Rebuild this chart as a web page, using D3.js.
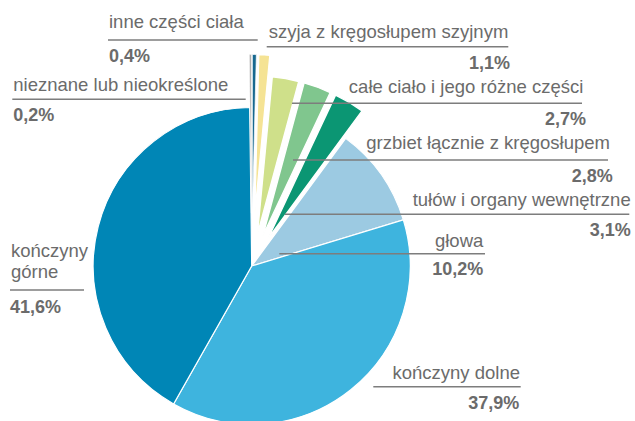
<!DOCTYPE html>
<html lang="pl">
<head>
<meta charset="utf-8">
<script src="https://cdn.jsdelivr.net/npm/d3@7"></script>
<style>
  html, body { margin: 0; padding: 0; background: #fff; }
  svg { display: block; }
  text { font-family: "Liberation Sans", Arial, Helvetica, sans-serif; fill: #6b6b6b; }
</style>
</head>
<body>
<svg id="chart" width="635" height="421"></svg>
<script>
// Wypadki przy pracy według umiejscowienia urazu (%)
const categories = [
  "inne części ciała",
  "szyja z kręgosłupem szyjnym",
  "całe ciało i jego różne części",
  "grzbiet łącznie z kręgosłupem",
  "tułów i organy wewnętrzne",
  "głowa",
  "kończyny dolne",
  "kończyny górne",
  "nieznane lub nieokreślone"
];
const values = [0.4, 1.1, 2.7, 2.8, 3.1, 10.2, 37.9, 41.6, 0.2];

// Slice fills, white border widths and how far each slice is pulled out of the pie
const colors = ["#17688f", "#f5e394", "#cfe08a", "#80c68e", "#0b9673", "#9ccae2", "#3eb4de", "#0086b6", "#ababab"];
const borders = [0.7, 1.2, 1.4, 1.4, 1.4, 1.2, 1.2, 1.2, 0.5];
const explode = [53, 53, 32, 32, 32, 0, 0, 0, 53];

// Label placement: name lines, underline and value, per category
const labelLayout = [
  { anchor: "start", tx: 109,   ty: [28.3],          ly: 40,    lx1: 108,   lx2: 257.7, px: 109,   py: 62.3 },
  { anchor: "end",   tx: 508.3, ty: [38.3],          ly: 46.7,  lx1: 266.7, lx2: 508.3, px: 510,   py: 69 },
  { anchor: "end",   tx: 583.3, ty: [93.3],          ly: 103.3, lx1: 292,   lx2: 582,   px: 586,   py: 125 },
  { anchor: "end",   tx: 610,   ty: [149.3],         ly: 160,   lx1: 293,   lx2: 608,   px: 612.7, py: 181.7 },
  { anchor: "end",   tx: 630.7, ty: [206],           ly: 214.3, lx1: 285,   lx2: 629.3, px: 630.7, py: 236 },
  { anchor: "end",   tx: 483.3, ty: [247],           ly: 253.7, lx1: 279.3, lx2: 485,   px: 483.3, py: 275.3 },
  { anchor: "end",   tx: 520,   ty: [379.3],         ly: 386.7, lx1: 373.3, lx2: 520.7, px: 519.3, py: 409 },
  { anchor: "start", tx: 11,    ty: [257.3, 278.3],  ly: 290,   lx1: 10,    lx2: 84,    px: 10,    py: 313.3 },
  { anchor: "start", tx: 13.3,  ty: [90.7],          ly: 99.3,  lx1: 12.3,  lx2: 245.7, px: 13.3,  py: 121 }
];

const svg = d3.select("#chart");
const cx = 251.7, cy = 266, radius = 158.5;

const data = categories.map((c, i) => ({
  name: c, value: values[i], color: colors[i], border: borders[i], explode: explode[i], layout: labelLayout[i]
}));

const pie = d3.pie().sort(null).value(d => d.value).startAngle(0).endAngle(2 * Math.PI);
const arc = d3.arc().innerRadius(0).outerRadius(radius);

const g = svg.append("g").attr("transform", `translate(${cx},${cy})`);

g.selectAll("path.slice")
  .data(pie(data))
  .join("path")
  .attr("class", "slice")
  .attr("d", arc)
  .attr("fill", d => d.data.color)
  .attr("stroke", "#fff")
  .attr("stroke-width", d => d.data.border)
  .attr("stroke-linejoin", "round")
  .attr("transform", d => {
    const mid = (d.startAngle + d.endAngle) / 2;
    const off = d.data.explode;
    return `translate(${off * Math.sin(mid)},${-off * Math.cos(mid)})`;
  });

// Labels: category name, rule, bold percentage
const fmt = v => d3.format(".1f")(v).replace(".", ",") + "%";
const labels = svg.append("g");

data.forEach(d => {
  const L = d.layout;
  const nameLines = d.name === "kończyny górne" ? ["kończyny", "górne"] : [d.name];
  nameLines.forEach((t, i) => {
    labels.append("text")
      .attr("x", L.tx).attr("y", L.ty[i])
      .attr("text-anchor", L.anchor)
      .attr("font-size", 18.5)
      .text(t);
  });
  labels.append("line")
    .attr("x1", L.lx1).attr("x2", L.lx2)
    .attr("y1", L.ly).attr("y2", L.ly)
    .attr("stroke", "#7d7d7d")
    .attr("stroke-width", 1.4);
  labels.append("text")
    .attr("x", L.px).attr("y", L.py)
    .attr("text-anchor", L.anchor)
    .attr("font-size", 18)
    .attr("font-weight", "bold")
    .text(fmt(d.value));
});
</script>
</body>
</html>
